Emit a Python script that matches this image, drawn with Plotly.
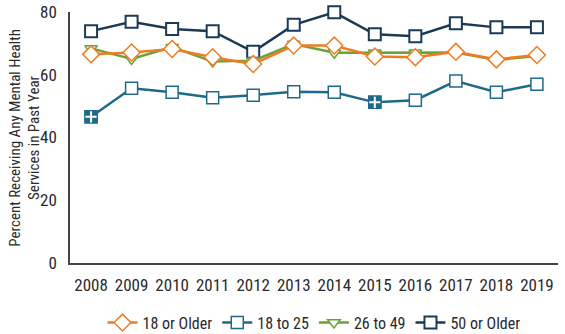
import plotly.graph_objects as go

years = [2008, 2009, 2010, 2011, 2012, 2013, 2014, 2015, 2016, 2017, 2018, 2019]
older18 = [66.5, 67.1, 68.2, 65.6, 63.4, 69.3, 69.3, 65.8, 65.6, 67.3, 64.9, 66.3]
age18_25 = [46.6, 55.7, 54.4, 52.7, 53.5, 54.6, 54.4, 51.2, 51.9, 58.0, 54.4, 57.0]
age26_49 = [68.4, 65.0, 68.8, 64.2, 64.5, 69.8, 67.0, 67.0, 67.0, 67.1, 64.7, 66.0]
older50 = [73.9, 76.9, 74.6, 73.9, 67.3, 75.9, 79.9, 72.9, 72.3, 76.4, 75.1, 75.1]
sig_18_25 = [True, False, False, False, False, False, False, True, False, False, False, False]
y_ticks = [0, 20, 40, 60, 80]
y_title = "Percent Receiving Any Mental Health<br>Services in Past Year"

C_OR = "#F07C22"
C_BL = "#1E6A88"
C_GR = "#6AA23A"
C_NV = "#1B3A55"

FONT = "Liberation Sans Narrow, Arial Narrow, Roboto Condensed, Liberation Sans, sans-serif"
TXT = "#2a2a2a"

fig = go.Figure()

fig.add_trace(go.Scatter(
    x=years, y=older50, name="50 or Older", mode="lines+markers", cliponaxis=False,
    line=dict(color=C_NV, width=2.5), legendrank=4,
    marker=dict(symbol="square", size=12, color="white", line=dict(color=C_NV, width=2))))
fig.add_trace(go.Scatter(
    x=years, y=age26_49, name="26 to 49", mode="lines+markers", cliponaxis=False,
    line=dict(color=C_GR, width=2.5), legendrank=3,
    marker=dict(symbol="triangle-down", size=11, color="white", line=dict(color=C_GR, width=1.5))))
fig.add_trace(go.Scatter(
    x=years, y=older18, name="18 or Older", mode="lines+markers", cliponaxis=False,
    line=dict(color=C_OR, width=2.5), legendrank=1,
    marker=dict(symbol="diamond", size=13, color="white", line=dict(color=C_OR, width=1.5))))
fig.add_trace(go.Scatter(
    x=years, y=age18_25, name="18 to 25", mode="lines+markers", cliponaxis=False,
    line=dict(color=C_BL, width=2.5), legendrank=2,
    marker=dict(symbol="square", size=12, color="white", line=dict(color=C_BL, width=1.5))))

sx = [x for x, s in zip(years, sig_18_25) if s]
sy = [y for y, s in zip(age18_25, sig_18_25) if s]
fig.add_trace(go.Scatter(
    x=sx, y=sy, mode="markers", showlegend=False, hoverinfo="skip", cliponaxis=False,
    marker=dict(symbol="square", size=12, color=C_BL, line=dict(color=C_BL, width=1.5))))
fig.add_trace(go.Scatter(
    x=sx, y=sy, mode="markers", showlegend=False, hoverinfo="skip", cliponaxis=False,
    marker=dict(symbol="cross-thin", size=8, color="white", line=dict(color="white", width=2))))

fig.add_annotation(
    text=y_title, textangle=-90, xref="paper", yref="paper", x=-0.094, y=0.5,
    xanchor="center", yanchor="middle", showarrow=False, align="center",
    font=dict(family=FONT, size=15, color=TXT))

fig.update_layout(
    width=565, height=334,
    margin=dict(l=70, r=7, t=12, b=71, autoexpand=False),
    paper_bgcolor="white", plot_bgcolor="white",
    font=dict(family=FONT, size=16, color=TXT),
    showlegend=True,
    legend=dict(orientation="h", x=0.5, xanchor="center", y=-0.17, yanchor="top",
                font=dict(family=FONT, size=16, color=TXT),
                itemwidth=30, traceorder="normal"),
    xaxis=dict(range=[2007.48, 2019.52], tickmode="array", tickvals=years,
               ticktext=[str(y) for y in years], showgrid=False, zeroline=False,
               showline=True, linecolor="#444444", linewidth=1.5, ticks="",
               ticklabelstandoff=6, automargin=False,
               tickfont=dict(family=FONT, size=17, color=TXT)),
    yaxis=dict(range=[0, 80], tickmode="array", tickvals=y_ticks, showgrid=False,
               zeroline=False, showline=True, linecolor="#444444", linewidth=1.5,
               ticks="", ticklabelstandoff=8, automargin=False,
               tickfont=dict(family=FONT, size=17, color=TXT)),
)

fig.write_html("out.html")
